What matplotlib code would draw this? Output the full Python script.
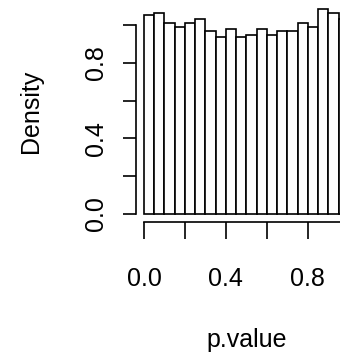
"""Histogram of p-values in the style of base R hist()."""
import matplotlib
matplotlib.use("Agg")
import matplotlib.pyplot as plt
import numpy as np

plt.rcParams["font.family"] = ["Liberation Sans", "DejaVu Sans"]

# density per bin, 20 bins of width 0.05 over [0, 1]
bin_left = [0.00, 0.05, 0.10, 0.15, 0.20, 0.25, 0.30, 0.35, 0.40, 0.45,
            0.50, 0.55, 0.60, 0.65, 0.70, 0.75, 0.80, 0.85, 0.90, 0.95]
density = [1.053, 1.062, 1.011, 0.991, 1.011, 1.030, 0.968, 0.937, 0.977, 0.935,
           0.949, 0.977, 0.949, 0.968, 0.968, 1.011, 0.991, 1.085, 1.062, 1.032]
bin_width = 0.05

x_ticks = [0.0, 0.2, 0.4, 0.6, 0.8, 1.0]
x_labels = ["0.0", "", "0.4", "", "0.8", ""]
y_ticks = [0.0, 0.2, 0.4, 0.6, 0.8, 1.0]
y_labels = ["0.0", "", "0.4", "", "0.8", ""]

W, H = 340, 354
FS = 18
fig = plt.figure(figsize=(W / 100, H / 100), dpi=100)
# plot region runs past the right edge of the picture, as in the reference
ax = fig.add_axes([135.8 / W, 1 - 222 / H, (357 - 135.8) / W, (222 - 0.8) / H])

ax.bar(bin_left, density, width=bin_width, align="edge",
       facecolor="white", edgecolor="black", linewidth=1.2)

ymax = max(density)
ax.set_xlim(-0.04, 1.04)
ax.set_ylim(-0.04 * ymax, 1.04 * ymax)

for side in ("top", "right"):
    ax.spines[side].set_visible(False)
ax.spines["left"].set_bounds(0, 1)
ax.spines["bottom"].set_bounds(0, 1)
for side in ("left", "bottom"):
    ax.spines[side].set_linewidth(1.2)

ax.set_xticks(x_ticks, x_labels)
ax.set_yticks(y_ticks, y_labels, rotation=90, va="center")
ax.tick_params(axis="x", length=12, width=1.2, pad=20.5, labelsize=FS)
ax.tick_params(axis="y", length=9.5, width=1.2, pad=10.8, labelsize=FS)

fig.text(43.3 / W, 1 - 111 / H, "Density", rotation=90, ha="right", va="center",
         fontsize=FS)
fig.text(246.5 / W, 1 - 347 / H, "p.value", ha="center", va="baseline", fontsize=FS)

fig.savefig("out.png", dpi=100)
